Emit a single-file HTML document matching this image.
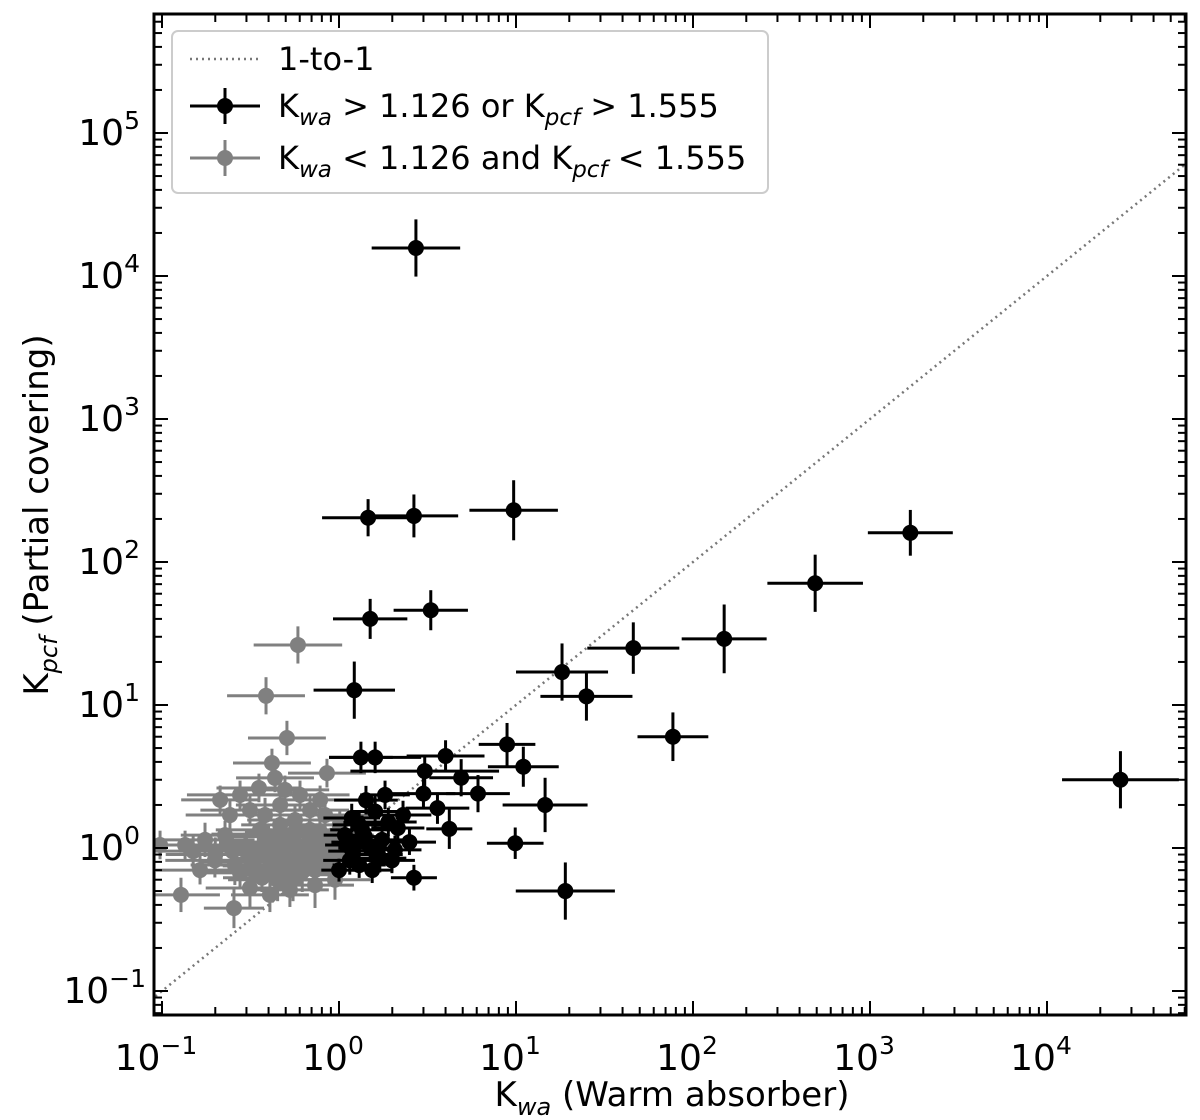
<!DOCTYPE html>
<html><head><meta charset="utf-8"><style>
body{margin:0;background:#fff}
svg{display:block;font-family:"DejaVu Sans","Liberation Sans",sans-serif}
</style></head><body>
<svg id="chart" width="1200" height="1120" viewBox="0 0 1200 1120">
<g id="plot"></g>
</svg>
<script>
// Black: K_wa > 1.126 or K_pcf > 1.555
const blackX=[2.72,1.46,2.65,9.7,3.3,1.5,1.22,18.2,25,46,150,490,1690,77,26000,19,9.9,14.6,8.9,11,6.1,4.9,4.0,4.2,3.6,3.0,3.05,2.65,1.6,1.33,
1.15,1.35,1.6,1.75,2.07,1.54,1.9,1.25,1.42,2.15,1.82,1.08,1.3,2.3,1.99,1.66,1.18,1.5,2.5,1.0,1.2,1.4,1.7,1.3,1.1];
const blackY=[15700,204,210,230,46,40,12.7,17,11.5,25,29,71,160,6,3,0.5,1.08,2.0,5.3,3.7,2.4,3.1,4.4,1.36,1.9,2.4,3.45,0.62,4.3,4.3,
0.82,1.34,1.8,1.14,0.97,0.7,1.52,1.1,2.16,1.38,2.35,1.23,0.76,1.7,0.82,0.9,1.62,1.0,1.1,0.7,0.95,1.2,0.85,1.45,1.05];
const blackXErr=[0.25,0.26,0.25,0.25,0.21,0.21,0.23,0.26,0.26,0.26,0.24,0.27,0.24,0.2,0.33,0.28,0.16,0.24,0.16,0.2,0.18,0.18,0.22,0.13,0.18,0.18,0.42,0.13,0.26,0.18,
0.15,0.18,0.14,0.16,0.15,0.12,0.16,0.14,0.18,0.15,0.14,0.12,0.15,0.16,0.13,0.14,0.16,0.18,0.15,0.1,0.14,0.14,0.15,0.15,0.12];
const blackYErr=[0.2,0.13,0.15,0.21,0.14,0.14,0.2,0.2,0.17,0.18,0.24,0.2,0.16,0.17,0.2,0.2,0.11,0.19,0.15,0.14,0.13,0.13,0.11,0.14,0.11,0.11,0.11,0.09,0.11,0.11,
0.1,0.1,0.11,0.1,0.1,0.09,0.1,0.1,0.1,0.1,0.1,0.1,0.09,0.1,0.09,0.1,0.1,0.1,0.09,0.08,0.1,0.1,0.1,0.1,0.1];
// Gray: K_wa < 1.126 and K_pcf < 1.555
const grayX=[0.586,0.387,0.508,0.418,0.435,0.353,0.855,0.128,0.255,0.367,0.276,
0.175,0.227,0.294,0.358,0.435,0.528,0.642,0.782,0.949,
0.199,0.258,0.335,0.407,0.495,0.602,0.732,0.889,
0.242,0.314,0.382,0.465,0.564,0.686,0.834,1.01,
0.276,0.602,0.782,0.495,0.949,0.732,0.314,0.407,0.528,0.164,0.135,0.0975,0.213,1.08,0.686,0.358,0.465,
0.3,0.35,0.4,0.45,0.5,0.55,0.6,0.65,0.7,0.75,0.8,0.85,0.9,0.42,0.52,0.62,0.72,0.38,0.48,0.58,0.68,0.78,0.25,0.2,0.15,0.33,0.88,0.95,0.55,0.45];
const grayY=[26.3,11.6,5.88,3.93,3.09,2.63,3.34,0.47,0.38,0.62,0.67,
1.14,1.23,0.97,1.34,1.05,1.23,0.97,1.14,1.23,
0.82,0.76,0.70,0.82,0.65,0.76,0.70,0.82,
1.70,1.84,1.70,2.0,1.57,1.84,1.70,1.45,
2.35,2.35,2.17,2.55,0.60,0.55,0.525,0.47,0.51,0.70,1.05,1.05,2.17,0.97,1.34,0.97,1.45,
1.0,0.9,1.1,0.95,0.85,1.1,0.9,1.05,0.95,0.85,1.0,0.9,1.05,0.75,0.72,0.68,0.75,1.25,1.2,1.3,1.25,1.3,0.95,0.9,0.95,0.8,0.75,0.9,0.6,0.6];
const grayXErr=[0.25,0.22,0.22,0.22,0.22,0.24,0.22,0.22,0.17,0.22,0.22,
0.28,0.25,0.3,0.25,0.27,0.22,0.28,0.25,0.22,
0.28,0.25,0.22,0.27,0.25,0.22,0.25,0.22,
0.25,0.28,0.22,0.25,0.27,0.22,0.25,0.22,
0.3,0.28,0.22,0.25,0.2,0.22,0.25,0.22,0.22,0.25,0.28,0.12,0.22,0.17,0.25,0.22,0.22,
0.28,0.3,0.28,0.3,0.28,0.3,0.28,0.25,0.25,0.25,0.25,0.22,0.22,0.28,0.28,0.25,0.25,0.3,0.28,0.28,0.25,0.22,0.3,0.28,0.3,0.3,0.22,0.2,0.25,0.28];
const grayYErr=[0.13,0.13,0.12,0.1,0.1,0.1,0.1,0.12,0.14,0.1,0.1,
0.12,0.1,0.12,0.1,0.12,0.1,0.14,0.12,0.1,
0.12,0.14,0.15,0.12,0.14,0.15,0.12,0.1,
0.1,0.1,0.12,0.1,0.1,0.1,0.12,0.1,
0.1,0.1,0.1,0.1,0.14,0.16,0.14,0.12,0.12,0.1,0.1,0.1,0.1,0.1,0.1,0.12,0.1,
0.12,0.12,0.12,0.12,0.12,0.12,0.12,0.12,0.12,0.12,0.12,0.12,0.12,0.14,0.14,0.14,0.14,0.1,0.1,0.1,0.1,0.1,0.12,0.12,0.12,0.12,0.14,0.12,0.15,0.15];
const xTickExps=[-1,0,1,2,3,4];
const yTickExps=[-1,0,1,2,3,4,5];

const NS='http://www.w3.org/2000/svg';
const L=154,R=1186,T=14,B=1015;
const X0=339,XD=177,Y0=848,YD=143;
const xs=v=>X0+Math.log10(v)*XD;
const ys=v=>Y0-Math.log10(v)*YD;
const g=document.getElementById('plot');
function mk(tag,attrs,parent){const e=document.createElementNS(NS,tag);for(const k in attrs)e.setAttribute(k,attrs[k]);(parent||g).appendChild(e);return e;}
const clip=mk('clipPath',{id:'c'});mk('rect',{x:L,y:T,width:R-L,height:B-T},clip);
const data=mk('g',{'clip-path':'url(#c)'});


const diag=mk('line',{x1:xs(0.05),y1:ys(0.05),x2:xs(1e5),y2:ys(1e5),stroke:'#777','stroke-width':2.5,'stroke-dasharray':'2,4'},data);


function series(X,Y,XE,YE,col,name){
  for(let i=0;i<X.length;i++){
    const cx=xs(X[i]),cy=ys(Y[i]);
    const grp=mk('g',{},data);
    
    
    mk('line',{x1:cx-XE[i]*XD,x2:cx+XE[i]*XD,y1:cy,y2:cy,stroke:col,'stroke-width':3},grp);
    mk('line',{x1:cx,x2:cx,y1:cy-YE[i]*YD,y2:cy+YE[i]*YD,stroke:col,'stroke-width':3},grp);
    mk('circle',{cx:cx,cy:cy,r:8,fill:col},grp);
  }
}
series(grayX,grayY,grayXErr,grayYErr,'#808080','gray');
series(blackX,blackY,blackXErr,blackYErr,'#000','black');
function tickX(x,len){mk('line',{x1:x,x2:x,y1:B,y2:B-len,stroke:'#000','stroke-width':2});mk('line',{x1:x,x2:x,y1:T,y2:T+len,stroke:'#000','stroke-width':2});}
function tickY(y,len){mk('line',{x1:L,x2:L+len,y1:y,y2:y,stroke:'#000','stroke-width':2});mk('line',{x1:R,x2:R-len,y1:y,y2:y,stroke:'#000','stroke-width':2});}
for(let e=-2;e<=5;e++)for(let m=1;m<10;m++){const x=xs(m*Math.pow(10,e));if(x>=L&&x<=R)tickX(x,m===1?14:8);}
for(let e=-2;e<=6;e++)for(let m=1;m<10;m++){const y=ys(m*Math.pow(10,e));if(y>=T&&y<=B)tickY(y,m===1?14:8);}
xTickExps.forEach(e=>{const t=mk('text',{x:xs(Math.pow(10,e))-6,y:1070,'font-size':36,'text-anchor':'middle'});t.textContent='10';
  const s=mk('tspan',{dy:-16,'font-size':25},t);s.textContent=e<0?'\u2212'+(-e):String(e);
  });
yTickExps.forEach(e=>{const t=mk('text',{x:e<0?146:140,y:ys(Math.pow(10,e))+12,'font-size':36,'text-anchor':'end'});t.textContent='10';
  const s=mk('tspan',{dy:-16,'font-size':25},t);s.textContent=e<0?'\u2212'+(-e):String(e);
  });
const sp=mk('rect',{x:L,y:T,width:R-L,height:B-T,fill:'none',stroke:'#000','stroke-width':3});

</script>
<svg style="position:absolute;left:0;top:0" width="1200" height="1120">
<text x="672" y="1106" font-size="34" text-anchor="middle" font-family="DejaVu Sans, sans-serif">K<tspan font-style="italic" font-size="24" dy="9">wa</tspan><tspan dy="-9"> (Warm absorber)</tspan></text>
<text transform="translate(48,515) rotate(-90)" font-size="34" text-anchor="middle" font-family="DejaVu Sans, sans-serif">K<tspan font-style="italic" font-size="24" dy="9">pcf</tspan><tspan dy="-9"> (Partial covering)</tspan></text>
<g font-family="DejaVu Sans, sans-serif" font-size="32">
<rect x="172" y="31" width="596" height="162" rx="6" fill="#fff" fill-opacity="0.85" stroke="#ccc" stroke-width="2"/>
<line x1="190" y1="59" x2="260" y2="59" stroke="#777" stroke-width="2.5" stroke-dasharray="2,4"/>
<text x="278" y="70">1-to-1</text>
<g><line x1="190" y1="106" x2="260" y2="106" stroke="#000" stroke-width="3"/><line x1="225" y1="88" x2="225" y2="124" stroke="#000" stroke-width="3"/><circle cx="225" cy="106" r="8" fill="#000"/></g>
<text x="278" y="117">K<tspan font-style="italic" font-size="23" dy="8">wa</tspan><tspan dy="-8"> &gt; 1.126 or K</tspan><tspan font-style="italic" font-size="23" dy="8">pcf</tspan><tspan dy="-8"> &gt; 1.555</tspan></text>
<g><line x1="190" y1="158" x2="260" y2="158" stroke="#808080" stroke-width="3"/><line x1="225" y1="140" x2="225" y2="176" stroke="#808080" stroke-width="3"/><circle cx="225" cy="158" r="8" fill="#808080"/></g>
<text x="278" y="169">K<tspan font-style="italic" font-size="23" dy="8">wa</tspan><tspan dy="-8"> &lt; 1.126 and K</tspan><tspan font-style="italic" font-size="23" dy="8">pcf</tspan><tspan dy="-8"> &lt; 1.555</tspan></text>
</g>
</svg>
</body></html>
